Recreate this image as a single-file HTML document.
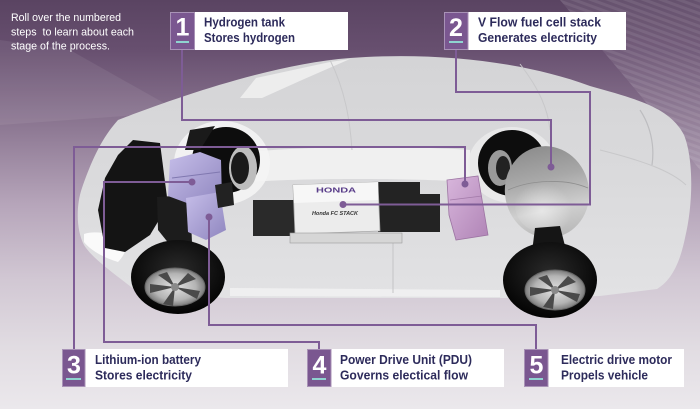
<!DOCTYPE html>
<html><head><meta charset="utf-8"><style>
html,body{margin:0;padding:0;width:700px;height:409px;overflow:hidden;background:#e8e4e9}
svg{display:block}
</style></head><body>
<svg width="700" height="409" viewBox="0 0 700 409" xmlns="http://www.w3.org/2000/svg">
<defs>
<linearGradient id="bg" x1="0" y1="0" x2="0" y2="1">
<stop offset="0" stop-color="#5a4462"/>
<stop offset="0.12" stop-color="#674f6f"/>
<stop offset="0.3" stop-color="#8b7691"/>
<stop offset="0.5" stop-color="#b6a5ba"/>
<stop offset="0.68" stop-color="#d1c7d3"/>
<stop offset="0.85" stop-color="#e1dce2"/>
<stop offset="1" stop-color="#ebe8ec"/>
</linearGradient>
<linearGradient id="body" x1="0" y1="0" x2="0" y2="1">
<stop offset="0" stop-color="#d4d4d6"/>
<stop offset="0.5" stop-color="#dadadc"/>
<stop offset="1" stop-color="#e2e2e4"/>
</linearGradient>
<linearGradient id="tank" x1="0" y1="0" x2="0" y2="1">
<stop offset="0" stop-color="#8e8e8e"/>
<stop offset="0.35" stop-color="#a8a8a8"/>
<stop offset="0.7" stop-color="#cfcfcf"/>
<stop offset="1" stop-color="#b8b8b8"/>
</linearGradient>
<radialGradient id="tankhl" cx="0.45" cy="0.6" r="0.5">
<stop offset="0" stop-color="#ffffff" stop-opacity="0.5"/>
<stop offset="1" stop-color="#ffffff" stop-opacity="0"/>
</radialGradient>
<radialGradient id="rim" cx="0.5" cy="0.5" r="0.5">
<stop offset="0" stop-color="#e2e2e2"/>
<stop offset="0.7" stop-color="#b4b4b4"/>
<stop offset="1" stop-color="#7c7c7c"/>
</radialGradient>
<radialGradient id="tire" cx="0.5" cy="0.4" r="0.6">
<stop offset="0" stop-color="#2a2a2a"/>
<stop offset="1" stop-color="#030303"/>
</radialGradient>
<linearGradient id="pdu" x1="0" y1="0" x2="1" y2="1">
<stop offset="0" stop-color="#c6bee9"/>
<stop offset="1" stop-color="#8f86bf"/>
</linearGradient>
<linearGradient id="batt" x1="0" y1="0" x2="1" y2="1">
<stop offset="0" stop-color="#d8b6dc"/>
<stop offset="1" stop-color="#b084b6"/>
</linearGradient>
<pattern id="stripes" width="6" height="6" patternUnits="userSpaceOnUse" patternTransform="rotate(20)">
<rect width="6" height="3" fill="#ffffff" opacity="0.08"/>
</pattern>
</defs>

<!-- background -->
<rect width="700" height="409" fill="url(#bg)"/>
<polygon points="0,40 70,50 180,112 0,125" fill="#ffffff" opacity="0.07"/>
<polygon points="560,0 700,0 700,170 640,95" fill="#ffffff" opacity="0.08"/>
<polygon points="560,0 700,0 700,170 640,95" fill="url(#stripes)"/>

<!-- car body -->
<path d="M118,120 C170,100 270,64 350,58 C430,52 520,60 590,86 C640,100 670,108 684,135 C694,160 693,205 685,238 C680,262 672,280 657,289 L600,296 L505,298 L225,298 L135,290 C112,272 92,258 84,245 C76,230 76,205 82,188 C90,165 100,140 118,120 Z" fill="url(#body)"/>
<!-- highlights -->
<polygon points="240,98 256,78 330,62 350,59 302,80 262,98" fill="#f2f2f2" opacity="0.8"/>
<path d="M250,152 C300,146 420,146 470,150 L470,182 C420,178 300,178 250,182 Z" fill="#f3f3f3" opacity="0.85"/>
<ellipse cx="222" cy="163" rx="48" ry="42" fill="#f4f4f4" opacity="0.9"/>
<ellipse cx="512" cy="165" rx="44" ry="38" fill="#ececec" opacity="0.8"/>
<path d="M84,234 C96,230 114,234 128,242 C126,252 122,258 118,262 C104,258 90,250 84,242 Z" fill="#fafafa"/>
<path d="M230,288 L500,290 L500,297 L230,296 Z" fill="#f2f2f2" opacity="0.8"/>
<path d="M600,150 C640,160 670,170 686,185" stroke="#c8c8ca" stroke-width="1" fill="none"/>
<path d="M640,110 C650,125 655,145 652,165" stroke="#bdbdc0" stroke-width="1.2" fill="none"/>
<line x1="393" y1="235" x2="393" y2="293" stroke="#c4c4c6" stroke-width="1"/>
<path d="M330,60 C345,90 350,120 352,150" stroke="#c8c8ca" stroke-width="1" fill="none"/>
<path d="M520,64 C540,90 548,110 550,130" stroke="#c8c8ca" stroke-width="1" fill="none"/>

<!-- far wheels -->
<ellipse cx="226" cy="160" rx="34" ry="33" fill="#0d0d0d"/>
<ellipse cx="243" cy="168" rx="14" ry="22" fill="#bdbdbd"/>
<ellipse cx="240" cy="168" rx="9" ry="16" fill="#1a1a1a"/>
<ellipse cx="512" cy="163" rx="34" ry="33" fill="#0d0d0d"/>
<ellipse cx="500" cy="168" rx="12" ry="18" fill="#9a9a9a"/>
<ellipse cx="503" cy="168" rx="7" ry="12" fill="#222"/>

<!-- engine / radiator -->
<polygon points="133,140 160,143 168,205 150,235 125,252 105,248 98,210 105,178 118,155" fill="#141414"/>
<polygon points="157,197 190,195 192,243 170,245 158,230" fill="#1c1c1c"/>
<polygon points="190,130 215,126 200,150 185,150" fill="#1a1a1a"/>
<!-- PDU + motor -->
<polygon points="170,160 200,152 221,160 222,200 195,206 168,196" fill="url(#pdu)"/>
<polygon points="186,198 220,192 226,230 206,240 188,232" fill="url(#pdu)"/>
<line x1="172" y1="178" x2="220" y2="172" stroke="#8078b0" stroke-width="1"/>
<polygon points="215,185 232,182 234,205 218,208" fill="#222"/>

<!-- fuel cell stack -->
<rect x="253" y="200" width="42" height="36" fill="#2a2a2a"/>
<polygon points="378,182 420,182 420,194 440,194 440,232 378,232" fill="#232323"/>
<polygon points="293,185 378,182 380,231 295,234" fill="#ececec" stroke="#a8a8a8" stroke-width="0.8"/>
<polygon points="293,185 378,182 378,200 294,203" fill="#f7f7f7"/>
<rect x="290" y="233" width="112" height="10" fill="#d6d6d6" stroke="#9c9c9c" stroke-width="0.6"/>
<text x="316" y="192.5" font-family="Liberation Sans, sans-serif" font-weight="bold" font-size="7.5" fill="#5a3e8a" textLength="40" lengthAdjust="spacingAndGlyphs">HONDA</text>
<text x="312" y="215" font-family="Liberation Sans, sans-serif" font-weight="bold" font-style="italic" font-size="5" fill="#333" textLength="46" lengthAdjust="spacingAndGlyphs">Honda FC STACK</text>

<!-- battery -->
<polygon points="447,180 478,176 488,235 456,240 449,215" fill="url(#batt)" stroke="#9c74a2" stroke-width="0.8"/>
<line x1="450" y1="200" x2="482" y2="196" stroke="#a27aa8" stroke-width="0.8"/>

<!-- tank -->
<ellipse cx="547" cy="192" rx="42" ry="46" transform="rotate(-12 547 192)" fill="url(#tank)"/>
<ellipse cx="545" cy="205" rx="30" ry="28" fill="url(#tankhl)"/>
<path d="M508,190 C530,180 565,178 588,188" stroke="#8e8e8e" stroke-width="0.8" fill="none"/>
<polygon points="535,228 560,226 566,250 532,252" fill="#151515"/>
<circle cx="520" cy="262" r="5" fill="#151515"/>

<!-- near front wheel -->
<ellipse cx="178" cy="277" rx="47" ry="37" fill="url(#tire)"/>
<ellipse cx="175" cy="287" rx="30" ry="19" fill="url(#rim)"/>
<ellipse cx="175" cy="287" rx="30" ry="19" fill="none" stroke="#666" stroke-width="1"/>
<g fill="#4a4a4a">
<polygon points="175,287 158,275 167,272"/>
<polygon points="175,287 188,273 196,279"/>
<polygon points="175,287 200,291 197,299"/>
<polygon points="175,287 173,306 163,304"/>
<polygon points="175,287 150,293 150,284"/>
</g>
<circle cx="175" cy="287" r="4" fill="#8a8a8a"/>

<!-- near rear wheel -->
<ellipse cx="550" cy="280" rx="47" ry="38" fill="url(#tire)"/>
<ellipse cx="555" cy="290" rx="30" ry="20" fill="url(#rim)"/>
<ellipse cx="555" cy="290" rx="30" ry="20" fill="none" stroke="#666" stroke-width="1"/>
<g fill="#4a4a4a">
<polygon points="555,290 538,278 547,275"/>
<polygon points="555,290 568,276 576,282"/>
<polygon points="555,290 580,294 577,302"/>
<polygon points="555,290 553,309 543,307"/>
<polygon points="555,290 530,296 530,287"/>
</g>
<circle cx="555" cy="290" r="4" fill="#8a8a8a"/>

<!-- connectors -->
<g stroke="#7e5c96" stroke-width="2" fill="none">
<polyline points="182,50 182,120 551,120 551,167"/>
<polyline points="456,50 456,92 590,92 590,204.5 343,204.5"/>
<polyline points="74,349 74,147 465,147 465,184"/>
<polyline points="319,349 319,342 104,342 104,182 192,182"/>
<polyline points="536,349 536,325 209,325 209,217"/>
</g>
<g fill="#7e5c96">
<circle cx="551" cy="167" r="3.5"/>
<circle cx="343" cy="204.5" r="3.5"/>
<circle cx="465" cy="184" r="3.5"/>
<circle cx="192" cy="182" r="3.5"/>
<circle cx="209" cy="217" r="3.5"/>
</g>

<!-- intro text -->
<g font-family="Liberation Sans, sans-serif" font-size="11" fill="#ffffff">
<text x="11" y="21" textLength="110" lengthAdjust="spacingAndGlyphs">Roll over the numbered</text>
<text x="11" y="35.5" textLength="123" lengthAdjust="spacingAndGlyphs" xml:space="preserve">steps  to learn about each</text>
<text x="11" y="49.5" textLength="99" lengthAdjust="spacingAndGlyphs">stage of the process.</text>
</g>

<!-- label boxes -->
<g>
<rect x="195" y="12" width="153" height="38" fill="#ffffff"/>
<rect x="468" y="12" width="158" height="38" fill="#ffffff"/>
<rect x="85" y="349" width="203" height="38" fill="#ffffff"/>
<rect x="331" y="349" width="173" height="38" fill="#ffffff"/>
<rect x="548" y="349" width="136" height="38" fill="#ffffff"/>
</g>
<g fill="#7a5790" stroke="#a892b6" stroke-width="1">
<rect x="170.5" y="12.5" width="24" height="37"/>
<rect x="444.5" y="12.5" width="23.5" height="37"/>
<rect x="62.5" y="349.5" width="22.5" height="37"/>
<rect x="307.5" y="349.5" width="23.5" height="37"/>
<rect x="524.5" y="349.5" width="23.5" height="37"/>
</g>
<g fill="#8fd3d0">
<rect x="176" y="41" width="13" height="2"/>
<rect x="449" y="41" width="14" height="2"/>
<rect x="66" y="378" width="15" height="2"/>
<rect x="312" y="378" width="14" height="2"/>
<rect x="529" y="378" width="14" height="2"/>
</g>
<g font-family="Liberation Sans, sans-serif" font-weight="bold" font-size="25" fill="#ffffff" text-anchor="middle">
<text x="182.5" y="35.5">1</text>
<text x="456" y="36">2</text>
<text x="74" y="373.5">3</text>
<text x="319.5" y="373.5">4</text>
<text x="536.5" y="373.5">5</text>
</g>
<g font-family="Liberation Sans, sans-serif" font-weight="bold" font-size="12.5" fill="#2d2b5b">
<text x="204" y="26.5" textLength="81" lengthAdjust="spacingAndGlyphs">Hydrogen tank</text>
<text x="204" y="42" textLength="91" lengthAdjust="spacingAndGlyphs">Stores hydrogen</text>
<text x="478" y="26.5" textLength="123" lengthAdjust="spacingAndGlyphs">V Flow fuel cell stack</text>
<text x="478" y="42" textLength="119" lengthAdjust="spacingAndGlyphs">Generates electricity</text>
<text x="95" y="364" textLength="106" lengthAdjust="spacingAndGlyphs">Lithium-ion battery</text>
<text x="95" y="379.5" textLength="97" lengthAdjust="spacingAndGlyphs">Stores electricity</text>
<text x="340" y="364" textLength="132" lengthAdjust="spacingAndGlyphs">Power Drive Unit (PDU)</text>
<text x="340" y="379.5" textLength="128" lengthAdjust="spacingAndGlyphs">Governs electical flow</text>
<text x="561" y="364" textLength="111" lengthAdjust="spacingAndGlyphs">Electric drive motor</text>
<text x="561" y="379.5" textLength="87" lengthAdjust="spacingAndGlyphs">Propels vehicle</text>
</g>
</svg>
</body></html>
